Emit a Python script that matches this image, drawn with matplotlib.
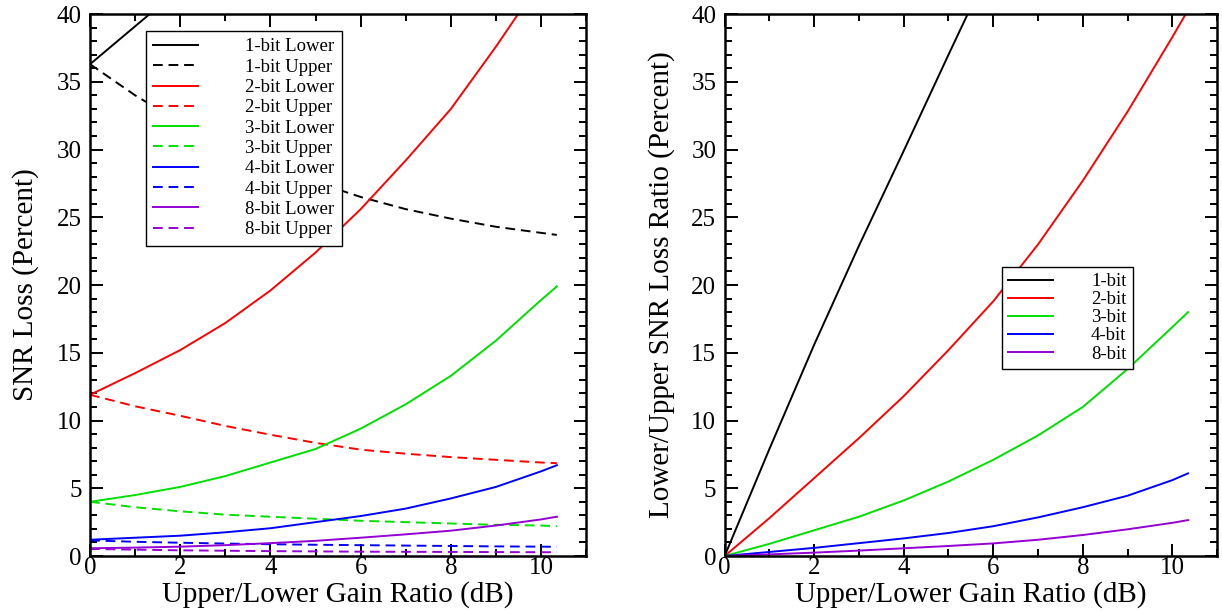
import matplotlib
matplotlib.use('Agg')
import matplotlib.pyplot as plt
from matplotlib.ticker import MultipleLocator

plt.rcParams['font.family'] = ['Liberation Serif', 'DejaVu Serif']

# gain ratio (dB) sample points
x = [0, 1, 2, 3, 4, 5, 6, 7, 8, 9, 10, 10.35]

# left panel: SNR loss (percent)
lower_1 = [36.3, 39.1, 41.9]
x_lower_1 = [0, 1, 2]
upper_1 = [36.3, 34.0, 32.0, 30.3, 28.9, 27.6, 26.5, 25.6, 24.9, 24.3, 23.85, 23.7]
lower_2 = [11.9, 13.5, 15.2, 17.2, 19.6, 22.4, 25.6, 29.2, 33.0, 37.6, 42.5, 44.5]
upper_2 = [11.9, 11.05, 10.35, 9.6, 8.95, 8.35, 7.85, 7.55, 7.3, 7.1, 6.9, 6.85]
lower_3 = [4.0, 4.5, 5.1, 5.9, 6.9, 7.9, 9.4, 11.2, 13.3, 15.9, 18.9, 19.9]
upper_3 = [4.0, 3.6, 3.3, 3.05, 2.9, 2.75, 2.6, 2.5, 2.4, 2.3, 2.25, 2.2]
lower_4 = [1.2, 1.35, 1.5, 1.75, 2.05, 2.5, 2.95, 3.5, 4.25, 5.1, 6.25, 6.7]
upper_4 = [1.15, 1.05, 0.98, 0.92, 0.87, 0.83, 0.8, 0.77, 0.74, 0.71, 0.69, 0.68]
lower_8 = [0.57, 0.62, 0.69, 0.8, 0.95, 1.12, 1.35, 1.6, 1.87, 2.25, 2.7, 2.9]
upper_8 = [0.52, 0.47, 0.42, 0.39, 0.36, 0.34, 0.32, 0.31, 0.3, 0.29, 0.28, 0.28]

# right panel: lower/upper SNR loss ratio (percent)
x_ratio_1 = [0, 1, 2, 3, 4, 5, 6]
ratio_1 = [0, 7.9, 15.6, 22.9, 29.9, 37.0, 44.0]
ratio_2 = [0, 2.8, 5.75, 8.7, 11.8, 15.2, 18.8, 23.0, 27.7, 32.8, 38.3, 40.3]
ratio_3 = [0, 0.9, 1.9, 2.9, 4.1, 5.5, 7.1, 8.9, 11.0, 13.8, 16.9, 18.0]
ratio_4 = [0, 0.3, 0.6, 0.95, 1.3, 1.7, 2.2, 2.85, 3.6, 4.45, 5.6, 6.1]
ratio_8 = [0, 0.12, 0.25, 0.4, 0.57, 0.74, 0.93, 1.2, 1.55, 1.97, 2.45, 2.65]

colors = {'1': 'black', '2': '#ff0000', '3': '#00e000', '4': '#0000ff', '8': '#9400d3'}
dash = (0, (5, 3))

fig = plt.figure(figsize=(12.22, 6.11), dpi=100)
ax1 = fig.add_axes([0.0737, 0.09, 0.406, 0.887])
ax2 = fig.add_axes([0.593, 0.09, 0.403, 0.887])

lw = 1.4
ax1.plot(x_lower_1, lower_1, color=colors['1'], lw=lw, label='1-bit Lower')
ax1.plot(x, upper_1, color=colors['1'], lw=lw, ls=dash, label='1-bit Upper')
ax1.plot(x, lower_2, color=colors['2'], lw=lw, label='2-bit Lower')
ax1.plot(x, upper_2, color=colors['2'], lw=lw, ls=dash, label='2-bit Upper')
ax1.plot(x, lower_3, color=colors['3'], lw=lw, label='3-bit Lower')
ax1.plot(x, upper_3, color=colors['3'], lw=lw, ls=dash, label='3-bit Upper')
ax1.plot(x, lower_4, color=colors['4'], lw=lw, label='4-bit Lower')
ax1.plot(x, upper_4, color=colors['4'], lw=lw, ls=dash, label='4-bit Upper')
ax1.plot(x, lower_8, color=colors['8'], lw=lw, label='8-bit Lower')
ax1.plot(x, upper_8, color=colors['8'], lw=lw, ls=dash, label='8-bit Upper')

ax2.plot(x_ratio_1, ratio_1, color=colors['1'], lw=lw, label='1-bit')
ax2.plot(x, ratio_2, color=colors['2'], lw=lw, label='2-bit')
ax2.plot(x, ratio_3, color=colors['3'], lw=lw, label='3-bit')
ax2.plot(x, ratio_4, color=colors['4'], lw=lw, label='4-bit')
ax2.plot(x, ratio_8, color=colors['8'], lw=lw, label='8-bit')

for ax in (ax1, ax2):
    ax.set_xlim(0, 11)
    ax.set_ylim(0, 40)
    ax.xaxis.set_major_locator(MultipleLocator(2))
    ax.xaxis.set_minor_locator(MultipleLocator(1))
    ax.yaxis.set_major_locator(MultipleLocator(5))
    ax.yaxis.set_minor_locator(MultipleLocator(1))
    ax.tick_params(which='both', direction='in', top=True, right=True, labelsize=18, width=1.4)
    ax.tick_params(which='major', length=9)
    ax.tick_params(which='minor', length=5)
    ax.tick_params(axis='x', pad=1)
    ax.tick_params(axis='y', pad=6)
    for s in ax.spines.values():
        s.set_linewidth(1.8)
    ax.set_xlabel('Upper/Lower Gain Ratio (dB)', fontsize=21, labelpad=1)

ax1.set_ylabel('SNR Loss (Percent)', fontsize=21, labelpad=13)
ax2.set_ylabel('Lower/Upper SNR Loss Ratio (Percent)', fontsize=21, labelpad=12)

leg1 = ax1.legend(loc='upper left', bbox_to_anchor=(0.112, 0.969), fontsize=13.5,
                  handlelength=2.4, handletextpad=2.5, labelspacing=0.17,
                  borderpad=0.4, borderaxespad=0, fancybox=False, framealpha=1,
                  edgecolor='black')
leg1.get_frame().set_linewidth(1.0)
leg2 = ax2.legend(loc='upper left', bbox_to_anchor=(0.563, 0.534), fontsize=13.5,
                  handlelength=2.4, handletextpad=2.0, labelspacing=0.05,
                  borderpad=0.35, borderaxespad=0, fancybox=False, framealpha=1,
                  edgecolor='black')
leg2.get_frame().set_linewidth(1.0)

fig.savefig('out.png', dpi=100)
